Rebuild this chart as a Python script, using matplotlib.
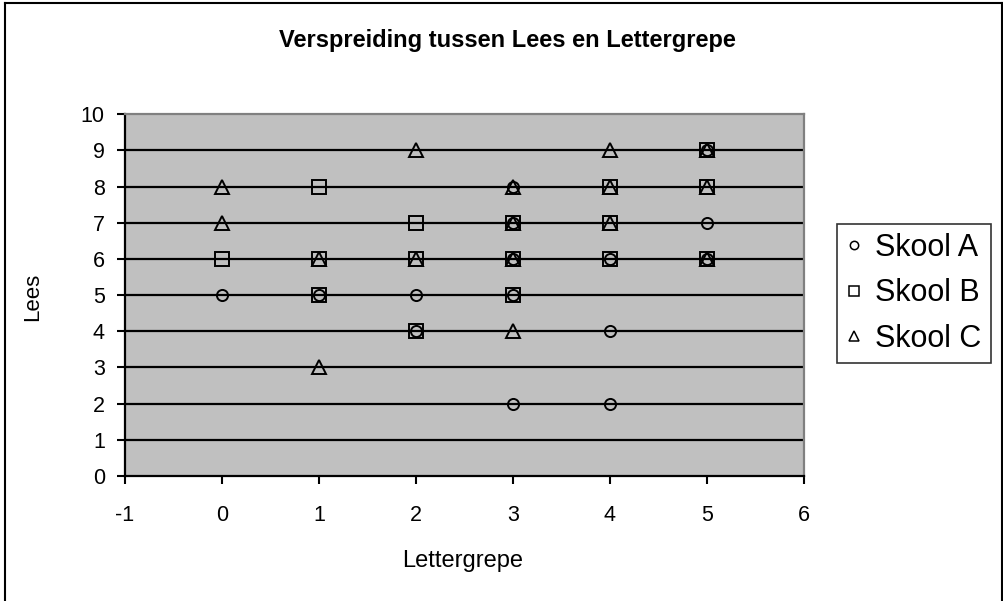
import matplotlib
matplotlib.use("Agg")
import matplotlib.pyplot as plt
from matplotlib.lines import Line2D

plt.rcParams['font.family'] = ['Liberation Sans', 'DejaVu Sans']
plt.rcParams['axes.unicode_minus'] = False

# DATA
TITLE = "Verspreiding tussen Lees en Lettergrepe"
XLABEL = "Lettergrepe"
YLABEL = "Lees"

skool_a_x = [0, 1, 2, 2, 3, 3, 3, 3, 3, 4, 4, 4, 5, 5, 5]
skool_a_y = [5, 5, 5, 4, 8, 7, 6, 5, 2, 6, 4, 2, 9, 7, 6]

skool_b_x = [0, 1, 1, 1, 2, 2, 2, 3, 3, 3, 4, 4, 4, 5, 5, 5]
skool_b_y = [6, 8, 6, 5, 7, 6, 4, 7, 6, 5, 8, 7, 6, 9, 8, 6]

skool_c_x = [0, 0, 1, 1, 2, 2, 3, 3, 3, 3, 4, 4, 4, 5, 5, 5]
skool_c_y = [7, 8, 6, 3, 9, 6, 8, 7, 6, 4, 9, 8, 7, 9, 8, 6]

series = [
    ("Skool A", skool_a_x, skool_a_y, "o"),
    ("Skool B", skool_b_x, skool_b_y, "s"),
    ("Skool C", skool_c_x, skool_c_y, "^"),
]

fig = plt.figure(figsize=(10.04, 6.01), dpi=100)
ax = fig.add_axes([0.1245, 0.208, 0.676, 0.602])
ax.set_facecolor("#C0C0C0")

for name, xs, ys, m in series:
    ax.plot(xs, ys, linestyle="none", marker=m, markersize=9.5 if m != "o" else 8,
            markerfacecolor="none", markeredgecolor="black", markeredgewidth=1.4,
            label=name, zorder=3, clip_on=False)

ax.set_xlim(-1, 6)
ax.set_ylim(0, 10)
ax.set_xticks(range(-1, 7))
ax.set_yticks(range(0, 11))
for yv in range(1, 10):
    ax.axhline(yv, color="black", linewidth=1.6, zorder=1)

for side in ["top", "right"]:
    ax.spines[side].set_color("#808080")
    ax.spines[side].set_linewidth(1.6)
for side in ["left", "bottom"]:
    ax.spines[side].set_color("black")
    ax.spines[side].set_linewidth(1.6)

ax.tick_params(direction="out", length=6, width=1.5, labelsize=15.5)
ax.tick_params(axis="x", pad=15)
ax.tick_params(axis="y", pad=8.5)

fig.text(463 / 1004, 1 - 561 / 601, XLABEL, ha="center", va="center", fontsize=17)
fig.text(33 / 1004, 1 - 297 / 601, YLABEL, ha="center", va="center", fontsize=16,
         rotation=90)
fig.text(507 / 1004, 1 - 40 / 601, TITLE, ha="center", va="center", fontsize=17,
         fontweight="bold")

handles = [Line2D([], [], linestyle="none", marker=m, markersize=7 if m != "o" else 6,
                  markerfacecolor="none", markeredgecolor="black", markeredgewidth=1.1)
           for _, _, _, m in series]
leg = fig.legend(handles, [s[0] for s in series], loc="upper left",
                 bbox_to_anchor=(837 / 1004, 1 - 224 / 601), fontsize=22, frameon=True,
                 fancybox=False, edgecolor="black", handlelength=0.5,
                 handletextpad=0.45, borderpad=0.3, labelspacing=0.5,
                 borderaxespad=0)
leg.get_frame().set_linewidth(1.2)

# figure border
fig.add_artist(Line2D([0.005, 0.005], [0, 0.995], color="black", linewidth=1.5))
fig.add_artist(Line2D([0.005, 0.998], [0.995, 0.995], color="black", linewidth=1.5))
fig.add_artist(Line2D([0.998, 0.998], [0, 0.995], color="black", linewidth=1.5))

fig.savefig("out.png", dpi=100)
